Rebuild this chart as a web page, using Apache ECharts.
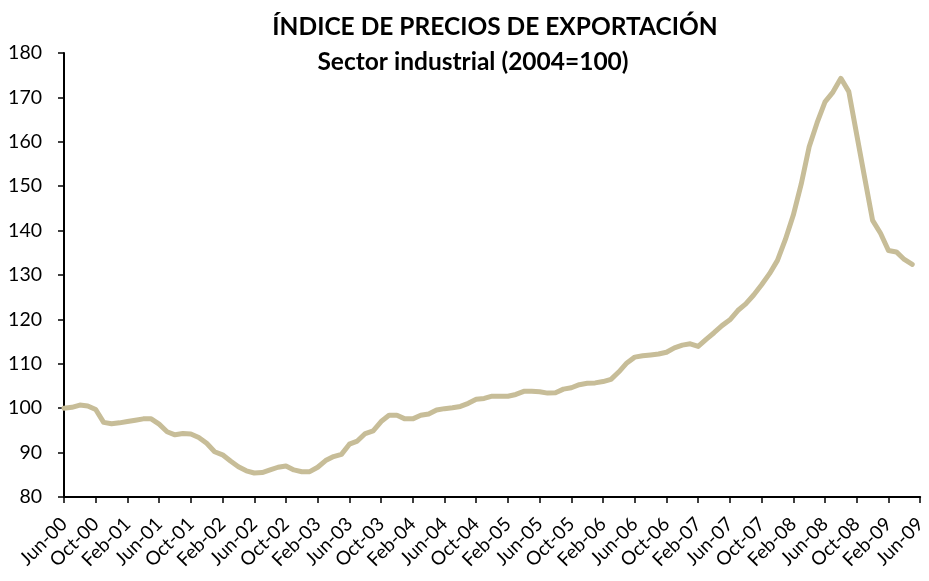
<!DOCTYPE html>
<html>
<head>
<meta charset="utf-8">
<script src="https://cdn.jsdelivr.net/npm/echarts@6/dist/echarts.min.js"></script>
<style>
html,body{margin:0;padding:0;background:#fff;}
#chart{width:929px;height:581px;}
</style>
</head>
<body>
<div id="chart"></div>
<script>
const titleText = 'ÍNDICE DE PRECIOS DE EXPORTACIÓN';
const subtitleText = 'Sector industrial (2004=100)';

const categories = [
  'Jun-00','Jul-00','Aug-00','Sep-00','Oct-00','Nov-00','Dec-00',
  'Jan-01','Feb-01','Mar-01','Apr-01','May-01','Jun-01','Jul-01','Aug-01','Sep-01','Oct-01','Nov-01','Dec-01',
  'Jan-02','Feb-02','Mar-02','Apr-02','May-02','Jun-02','Jul-02','Aug-02','Sep-02','Oct-02','Nov-02','Dec-02',
  'Jan-03','Feb-03','Mar-03','Apr-03','May-03','Jun-03','Jul-03','Aug-03','Sep-03','Oct-03','Nov-03','Dec-03',
  'Jan-04','Feb-04','Mar-04','Apr-04','May-04','Jun-04','Jul-04','Aug-04','Sep-04','Oct-04','Nov-04','Dec-04',
  'Jan-05','Feb-05','Mar-05','Apr-05','May-05','Jun-05','Jul-05','Aug-05','Sep-05','Oct-05','Nov-05','Dec-05',
  'Jan-06','Feb-06','Mar-06','Apr-06','May-06','Jun-06','Jul-06','Aug-06','Sep-06','Oct-06','Nov-06','Dec-06',
  'Jan-07','Feb-07','Mar-07','Apr-07','May-07','Jun-07','Jul-07','Aug-07','Sep-07','Oct-07','Nov-07','Dec-07',
  'Jan-08','Feb-08','Mar-08','Apr-08','May-08','Jun-08','Jul-08','Aug-08','Sep-08','Oct-08','Nov-08','Dec-08',
  'Jan-09','Feb-09','Mar-09','Apr-09','May-09','Jun-09'
];

const indexValues = [
  100.0, 100.2, 100.7, 100.5, 99.7, 96.8, 96.5, 96.7, 97.0, 97.3, 97.6, 97.6,
  96.4, 94.7, 94.0, 94.3, 94.2, 93.4, 92.1, 90.2, 89.5, 88.1, 86.8, 85.9,
  85.4, 85.5, 86.1, 86.7, 87.0, 86.1, 85.7, 85.7, 86.7, 88.2, 89.1, 89.6,
  91.9, 92.6, 94.3, 94.9, 97.0, 98.4, 98.4, 97.6, 97.6, 98.4, 98.7, 99.6,
  99.9, 100.1, 100.4, 101.1, 102.0, 102.2, 102.7, 102.7, 102.7, 103.1, 103.8, 103.8,
  103.7, 103.4, 103.5, 104.3, 104.6, 105.3, 105.6, 105.7, 106.0, 106.5, 108.2, 110.2,
  111.5, 111.8, 112.0, 112.2, 112.6, 113.6, 114.2, 114.5, 113.9, 115.5, 117.0, 118.6,
  119.9, 122.0, 123.5, 125.5, 127.8, 130.3, 133.3, 138.0, 143.5, 150.5, 158.9, 164.3,
  169.0, 171.2, 174.3, 171.3, 161.6, 151.9, 142.3, 139.4, 135.5, 135.2, 133.5, 132.4
];

const yMin = 80, yMax = 180, yStep = 10;

const chart = echarts.init(document.getElementById('chart'), null, {renderer: 'canvas'});
const FONT = 'Lato';
chart.setOption({
  animation: false,
  backgroundColor: '#ffffff',
  title: [
    {text: titleText, left: 490, top: 10, textAlign: 'center',
     textStyle: {fontFamily: FONT, fontSize: 24.5, fontWeight: 'bold', color: '#000'}},
    {text: subtitleText, left: 468, top: 45, textAlign: 'center',
     textStyle: {fontFamily: FONT, fontSize: 24.5, fontWeight: 'bold', color: '#000'}}
  ],
  grid: {left: 64, right: 4, top: 53, bottom: 84, containLabel: false},
  xAxis: {
    type: 'category',
    data: categories,
    boundaryGap: false,
    axisLine: {lineStyle: {color: '#000', width: 2}},
    axisTick: {show: true, interval: 3, length: 6, lineStyle: {color: '#000', width: 1.5}},
    axisLabel: {interval: 3, rotate: 45, margin: 24, fontFamily: FONT, fontSize: 19, color: '#000'},
    splitLine: {show: false}
  },
  yAxis: {
    type: 'value',
    min: yMin, max: yMax, interval: yStep,
    axisLine: {show: true, lineStyle: {color: '#000', width: 2}},
    axisTick: {show: true, length: 6, lineStyle: {color: '#000', width: 1.5}},
    axisLabel: {margin: 22, fontFamily: FONT, fontSize: 19.5, color: '#000'},
    splitLine: {show: false}
  },
  series: [{
    type: 'line',
    data: indexValues,
    symbol: 'none',
    lineStyle: {color: '#c7bd98', width: 5, join: 'round', cap: 'round'},
    smooth: false
  }]
});
</script>
</body>
</html>
